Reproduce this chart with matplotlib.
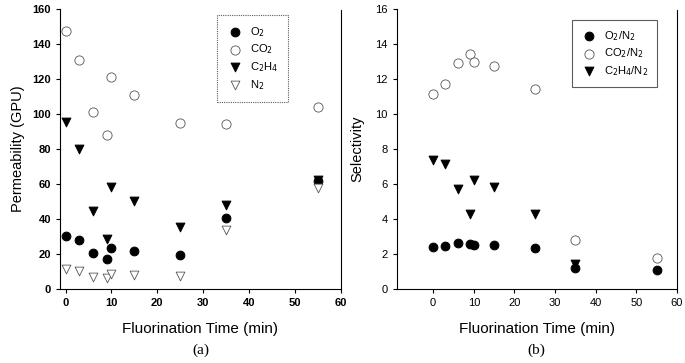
import matplotlib
matplotlib.use("Agg")
import matplotlib.pyplot as plt
import numpy as np

plt.rcParams['font.family'] = ['Liberation Sans', 'DejaVu Sans']

time = [0, 3, 6, 9, 10, 15, 25, 35, 55]
o2 = [30.5, 27.8, 20.4, 17.0, 23.4, 21.7, 19.2, 40.6, 62.0]
co2 = [147.4, 131.0, 101.0, 88.2, 121.0, 111.0, 94.7, 94.1, 103.8]
c2h4 = [95.5, 80.0, 44.5, 28.5, 58.5, 50.5, 35.5, 48.0, 62.5]
n2 = [11.5, 10.5, 7.0, 6.0, 8.5, 8.0, 7.5, 33.5, 57.5]

o2_n2 = [2.42, 2.48, 2.63, 2.59, 2.51, 2.51, 2.32, 1.22, 1.07]
co2_n2 = [11.16, 11.7, 12.9, 13.43, 12.97, 12.72, 11.43, 2.82, 1.77]
c2h4_n2 = [7.38, 7.15, 5.7, 4.3, 6.25, 5.85, 4.3, 1.4, np.nan]

fig = plt.figure(figsize=(6.85, 3.63), dpi=100)
axA = fig.add_axes([0.0876, 0.2039, 0.4102, 0.7711])
axB = fig.add_axes([0.579, 0.2039, 0.4093, 0.7711])

ms = 40
def style(ax, bold):
    ax.spines['top'].set_visible(False)
    ax.spines['right'].set_linestyle((0, (1, 1)))
    ax.spines['right'].set_linewidth(0.8)
    ax.spines['left'].set_linewidth(0.8)
    ax.spines['bottom'].set_linewidth(0.8)
    ax.tick_params(direction='out', length=3, width=0.8, labelsize=8, right=False, top=False)
    for lab in ax.get_xticklabels() + ax.get_yticklabels():
        lab.set_fontweight('bold' if bold else 'normal')

axA.scatter(time, o2, s=ms, marker='o', facecolor='black', edgecolor='black', linewidths=0.7, label='O$_2$', zorder=3)
axA.scatter(time, co2, s=ms*1.1, marker='o', facecolor='white', edgecolor='#555555', linewidths=0.6, label='CO$_2$', zorder=3)
axA.scatter(time, c2h4, s=ms, marker='v', facecolor='black', edgecolor='black', linewidths=0.7, label='C$_2$H$_4$', zorder=3)
axA.scatter(time, n2, s=ms, marker='v', facecolor='white', edgecolor='#555555', linewidths=0.6, label='N$_2$', zorder=3)
axA.set_xlim(-1.2, 60)
axA.set_ylim(0, 160)
axA.set_xticks(range(0, 61, 10))
axA.set_yticks(range(0, 161, 20))
style(axA, True)
axA.set_xlabel('Fluorination Time (min)', fontsize=11, labelpad=10)
axA.set_ylabel('Permeability (GPU)', fontsize=10.5, labelpad=5)
legA = axA.legend(loc='upper left', bbox_to_anchor=(0.559, 0.979), borderaxespad=0, frameon=True, fancybox=False,
                  fontsize=8, handletextpad=0.6, labelspacing=0.35, borderpad=0.9, handlelength=1.5)
legA.get_frame().set_edgecolor('#333333')
legA.get_frame().set_linewidth(0.8)
legA.get_frame().set_linestyle((0, (1, 1)))
axA.text(0.5, -0.195, '(a)', transform=axA.transAxes, ha='center', va='top',
         fontsize=11, family=['Liberation Serif', 'DejaVu Serif'])

axB.scatter(time, o2_n2, s=ms, marker='o', facecolor='black', edgecolor='black', linewidths=0.7, label='O$_2$/N$_2$', zorder=3)
axB.scatter(time, co2_n2, s=ms*1.1, marker='o', facecolor='white', edgecolor='#555555', linewidths=0.6, label='CO$_2$/N$_2$', zorder=3)
axB.scatter(time, c2h4_n2, s=ms, marker='v', facecolor='black', edgecolor='black', linewidths=0.7, label='C$_2$H$_4$/N$_2$', zorder=2)
axB.set_xlim(-9, 60)
axB.set_ylim(0, 16)
axB.set_xticks(range(0, 61, 10))
axB.set_yticks(range(0, 17, 2))
style(axB, False)
axB.set_xlabel('Fluorination Time (min)', fontsize=11, labelpad=10)
axB.set_ylabel('Selectivity', fontsize=10.5, labelpad=8)
legB = axB.legend(loc='upper left', bbox_to_anchor=(0.625, 0.961), borderaxespad=0, frameon=True, fancybox=False,
                  fontsize=8, handletextpad=0.6, labelspacing=0.35, borderpad=0.8, handlelength=1.5)
legB.get_frame().set_edgecolor('#333333')
legB.get_frame().set_linewidth(0.8)
axB.text(0.5, -0.195, '(b)', transform=axB.transAxes, ha='center', va='top',
         fontsize=11, family=['Liberation Serif', 'DejaVu Serif'])

fig.savefig('out.png', dpi=100)
